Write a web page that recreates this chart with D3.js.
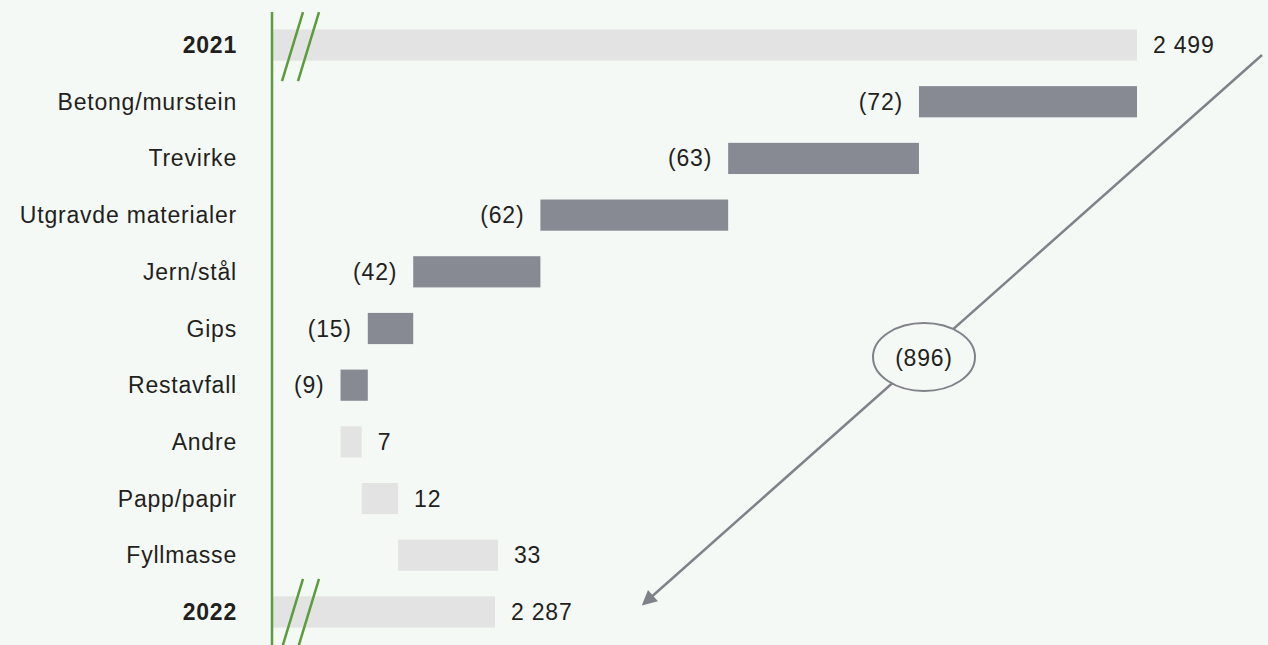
<!DOCTYPE html>
<html>
<head>
<meta charset="utf-8">
<script src="https://cdn.jsdelivr.net/npm/d3@7"></script>
<style>
  html, body { margin: 0; padding: 0; background: #f5f9f6; }
  svg { display: block; }
  text { font-family: 'Liberation Sans', Arial, sans-serif; font-size: 23px; letter-spacing: 0.8px; fill: #231f20; }
</style>
</head>
<body>
<svg id="svg" width="1268" height="645"></svg>
<script>
// data
var categories = ["2021", "Betong/murstein", "Trevirke", "Utgravde materialer", "Jern/stål",
                  "Gips", "Restavfall", "Andre", "Papp/papir", "Fyllmasse", "2022"];
var changes = [2499, -72, -63, -62, -42, -15, -9, 7, 12, 33, 2287];
var labels = ["2 499", "(72)", "(63)", "(62)", "(42)", "(15)", "(9)", "7", "12", "33", "2 287"];
var totalLabel = "(896)";

var svg = d3.select("svg"),
    width = +svg.attr("width"),
    height = +svg.attr("height");

var axisX = 272;

// build waterfall segments
var running = 0;
var segs = categories.map(function (c, i) {
    var d = { cat: c, label: labels[i], total: (i === 0 || i === categories.length - 1) };
    if (d.total) {
        d.start = null; d.end = changes[i]; running = changes[i];
    } else {
        d.start = running; running += changes[i]; d.end = running;
    }
    d.neg = changes[i] < 0 && !d.total;
    return d;
});

// broken axis: the visible domain begins well above zero
var x = d3.scaleLinear().domain([2213.7, 2499]).range([axisX + 1, 1137]);

var y = d3.scaleBand().domain(categories).range([17, 640]).paddingInner(0.45).paddingOuter(0.22);

var g = svg.append("g");

g.selectAll("rect.bar")
    .data(segs)
    .enter()
    .append("rect")
    .attr("class", "bar")
    .attr("x", function (d) { return d.total ? x.range()[0] : x(Math.min(d.start, d.end)); })
    .attr("width", function (d) {
        return d.total ? x(d.end) - x.range()[0] : Math.abs(x(d.end) - x(d.start));
    })
    .attr("y", function (d) { return y(d.cat); })
    .attr("height", y.bandwidth())
    .attr("fill", function (d) { return d.neg ? "#878993" : "#e2e3e2"; });

// category labels
g.selectAll("text.cat")
    .data(segs)
    .enter()
    .append("text")
    .attr("class", "cat")
    .attr("x", 237)
    .attr("y", function (d) { return y(d.cat) + y.bandwidth() / 2; })
    .attr("text-anchor", "end")
    .attr("dominant-baseline", "central")
    .style("font-weight", function (d) { return d.total ? "bold" : "normal"; })
    .text(function (d) { return d.cat; });

// value labels
g.selectAll("text.val")
    .data(segs)
    .enter()
    .append("text")
    .attr("class", "val")
    .attr("x", function (d) {
        if (d.neg) return x(Math.min(d.start, d.end)) - 16;
        return x(d.end) + 16;
    })
    .attr("y", function (d) { return y(d.cat) + y.bandwidth() / 2; })
    .attr("text-anchor", function (d) { return d.neg ? "end" : "start"; })
    .attr("dominant-baseline", "central")
    .text(function (d) { return d.label; });

// green axis line
svg.append("line")
    .attr("x1", axisX).attr("x2", axisX)
    .attr("y1", 12).attr("y2", height)
    .attr("stroke", "#5b9c3c")
    .attr("stroke-width", 2.5);

// break marks on the total bars
[categories[0], categories[categories.length - 1]].forEach(function (c) {
    var yc = y(c) + y.bandwidth() / 2;
    [0, 16].forEach(function (dx) {
        svg.append("line")
            .attr("x1", 282 + dx).attr("y1", yc + 36)
            .attr("x2", 303 + dx).attr("y2", yc - 33)
            .attr("stroke", "#5b9c3c")
            .attr("stroke-width", 2.5);
    });
});

// arrow with total change
var defs = svg.append("defs");
defs.append("marker")
    .attr("id", "arrow")
    .attr("viewBox", "0 0 10 10")
    .attr("refX", 8).attr("refY", 5)
    .attr("markerWidth", 7).attr("markerHeight", 6)
    .attr("orient", "auto")
    .append("path")
    .attr("d", "M0,0 L10,5 L0,10 z")
    .attr("fill", "#808289");

var ax1 = 1262, ay1 = 55,
    ax2 = 640, ay2 = 607;
svg.append("line")
    .attr("x1", ax1).attr("y1", ay1)
    .attr("x2", ax2 + 4).attr("y2", ay2 - 3.5)
    .attr("stroke", "#808289")
    .attr("stroke-width", 2.5)
    .attr("marker-end", "url(#arrow)");

svg.append("ellipse")
    .attr("cx", 924).attr("cy", 357)
    .attr("rx", 51).attr("ry", 34)
    .attr("fill", "#f5f9f6")
    .attr("stroke", "#808289")
    .attr("stroke-width", 2);

svg.append("text")
    .attr("x", 924).attr("y", 358)
    .attr("text-anchor", "middle")
    .attr("dominant-baseline", "central")
    .text(totalLabel);
</script>
</body>
</html>
